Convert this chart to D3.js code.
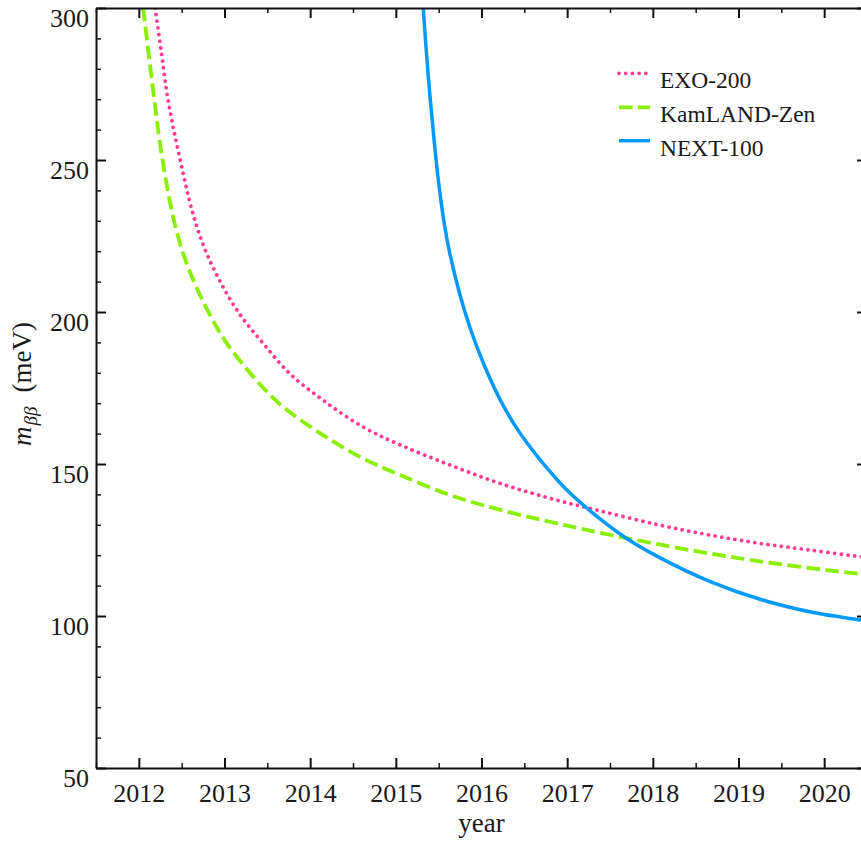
<!DOCTYPE html>
<html>
<head>
<meta charset="utf-8">
<script src="https://cdn.jsdelivr.net/npm/d3@7"></script>
<style>
  html, body { margin: 0; padding: 0; background: #fff; }
  svg { display: block; }
  text { font-family: "Liberation Serif", "Times New Roman", serif; fill: #1a1a1a; }
</style>
</head>
<body>
<svg id="chart" width="861" height="844"></svg>
<script>
// ---- data ----
const xTickYears = [2012, 2013, 2014, 2015, 2016, 2017, 2018, 2019, 2020];
const yTickValues = [50, 100, 150, 200, 250, 300];

const exoYears  = [2012.19, 2012.26, 2012.34, 2012.46, 2012.63, 2012.76, 2012.94, 2013.17, 2013.45, 2013.76, 2014.15, 2014.61, 2015.05, 2015.63, 2016.22, 2016.80, 2017.38, 2018.08, 2018.67, 2019.25, 2019.83, 2020.42, 2020.5];
const exoValues = [300, 286, 270, 253, 232.5, 221.5, 210.5, 199.6, 189.7, 179.8, 171, 162.3, 156.3, 149.7, 143.6, 138.7, 134.6, 129.9, 126.6, 123.9, 121.7, 119.5, 119.2];

const kamYears  = [2012.05, 2012.11, 2012.18, 2012.26, 2012.40, 2012.53, 2012.67, 2012.84, 2013.02, 2013.37, 2013.68, 2014.15, 2014.61, 2015.05, 2015.63, 2016.22, 2016.80, 2017.38, 2018.47, 2019.25, 2020.03, 2020.5];
const kamValues = [300, 286, 270, 253, 231.3, 218.2, 208.3, 198.5, 190, 177.6, 168.9, 159.5, 151.9, 146.4, 139.8, 134.9, 131.0, 127.4, 121.5, 118.0, 115.1, 113.6];

const nextYears  = [2015.32, 2015.35, 2015.40, 2015.45, 2015.50, 2015.56, 2015.63, 2015.75, 2015.87, 2016.02, 2016.22, 2016.41, 2016.68, 2016.80, 2016.99, 2017.38, 2017.69, 2018.08, 2018.67, 2019.25, 2019.83, 2020.42, 2020.5];
const nextValues = [300, 288, 270.5, 255.5, 242.5, 230, 219.3, 205.5, 194.5, 183.3, 171, 161.8, 151.5, 147.5, 141.6, 132, 125.6, 119.2, 111.3, 105.5, 101.4, 98.7, 98.4];

const seriesNames = ["EXO-200", "KamLAND-Zen", "NEXT-100"];
const seriesColors = ["#ff3a94", "#8aee00", "#0099ff"];

// ---- layout ----
const svg = d3.select("#chart");
const mLeft = 96, mTop = 8, mRight = 867, mBottom = 768;

const x = d3.scaleLinear().domain([2011.5, 2020.5]).range([mLeft, mRight]);
const y = d3.scaleLinear().domain([50, 300]).range([mBottom, mTop]);

svg.append("defs").append("clipPath").attr("id", "plotclip")
  .append("rect").attr("x", mLeft).attr("y", mTop).attr("width", mRight - mLeft).attr("height", mBottom - mTop);

// ---- curves ----
const series = [
  { name: seriesNames[0], color: seriesColors[0], pts: exoYears.map((d, i) => [d, exoValues[i]]), dash: "0.01,6.7", width: 3.8, cap: "round" },
  { name: seriesNames[1], color: seriesColors[1], pts: kamYears.map((d, i) => [d, kamValues[i]]), dash: "13.5,5.5", width: 3.8, cap: "butt" },
  { name: seriesNames[2], color: seriesColors[2], pts: nextYears.map((d, i) => [d, nextValues[i]]), dash: null, width: 3.5, cap: "butt" }
];

const line = d3.line().x(d => x(d[0])).y(d => y(d[1])).curve(d3.curveCatmullRom.alpha(0.5));

const g = svg.append("g").attr("clip-path", "url(#plotclip)");
series.forEach(s => {
  g.append("path").datum(s.pts)
    .attr("d", line)
    .attr("fill", "none")
    .attr("stroke", s.color)
    .attr("stroke-width", s.width)
    .attr("stroke-linecap", s.cap)
    .attr("stroke-dasharray", s.dash);
});

// ---- axes ----
const xMinor = d3.range(2011.5, 2020.51, 0.5).filter(v => !xTickYears.includes(v));
const yMinor = d3.range(50, 301, 10).filter(v => !yTickValues.includes(v));

function styleAxis(sel) {
  sel.select(".domain").attr("stroke", "#111").attr("stroke-width", 2);
  sel.selectAll(".tick line").attr("stroke", "#111").attr("stroke-width", 2);
}

// bottom
const bx = svg.append("g").attr("transform", `translate(0,${mBottom})`)
  .call(d3.axisBottom(x).tickValues(xTickYears).tickSize(-10).tickSizeOuter(0).tickFormat(d3.format("d")));
styleAxis(bx);
bx.selectAll(".tick text").attr("y", 34).attr("dy", 0).attr("font-size", 26).attr("font-family", "Liberation Serif").attr("fill", "#1a1a1a");
const bxm = svg.append("g").attr("transform", `translate(0,${mBottom})`)
  .call(d3.axisBottom(x).tickValues(xMinor).tickSize(-5).tickSizeOuter(0).tickFormat(""));
styleAxis(bxm); bxm.select(".domain").remove();
bxm.selectAll(".tick line").attr("stroke-width", 1.5);

// top
const tx = svg.append("g").attr("transform", `translate(0,${mTop})`)
  .call(d3.axisTop(x).tickValues(xTickYears).tickSize(-10).tickSizeOuter(0).tickFormat(""));
styleAxis(tx);
const txm = svg.append("g").attr("transform", `translate(0,${mTop})`)
  .call(d3.axisTop(x).tickValues(xMinor).tickSize(-5).tickSizeOuter(0).tickFormat(""));
styleAxis(txm); txm.select(".domain").remove();
txm.selectAll(".tick line").attr("stroke-width", 1.5);

// left
const ly = svg.append("g").attr("transform", `translate(${mLeft},0)`)
  .call(d3.axisLeft(y).tickValues(yTickValues).tickSize(-10).tickSizeOuter(0).tickFormat(d3.format("d")));
styleAxis(ly);
ly.selectAll(".tick text").attr("x", -7).attr("y", 18).attr("dy", 0).attr("font-size", 26).attr("font-family", "Liberation Serif").attr("fill", "#1a1a1a");
const lym = svg.append("g").attr("transform", `translate(${mLeft},0)`)
  .call(d3.axisLeft(y).tickValues(yMinor).tickSize(-5).tickSizeOuter(0).tickFormat(""));
styleAxis(lym); lym.select(".domain").remove();
lym.selectAll(".tick line").attr("stroke-width", 1.5);

// right
const ry = svg.append("g").attr("transform", `translate(${mRight},0)`)
  .call(d3.axisRight(y).tickValues(yTickValues).tickSize(-10).tickSizeOuter(0).tickFormat(""));
styleAxis(ry);
const rym = svg.append("g").attr("transform", `translate(${mRight},0)`)
  .call(d3.axisRight(y).tickValues(yMinor).tickSize(-5).tickSizeOuter(0).tickFormat(""));
styleAxis(rym); rym.select(".domain").remove();
rym.selectAll(".tick line").attr("stroke-width", 1.5);

// ---- axis labels ----
svg.append("text").attr("x", x(2016)).attr("y", 832)
  .attr("text-anchor", "middle").attr("font-size", 27).text("year");

const yl = svg.append("text")
  .attr("transform", `translate(31,${y(175) - 4}) rotate(-90)`)
  .attr("text-anchor", "middle").attr("font-size", 27);
yl.append("tspan").attr("font-style", "italic").text("m");
yl.append("tspan").attr("font-style", "italic").attr("font-size", 19).attr("dy", 6).attr("dx", 1).text("ββ");
yl.append("tspan").attr("dy", -6).attr("dx", 14).text("(meV)");

// ---- legend ----
const legendY = [73.3, 107.3, 140.7];
const leg = svg.append("g");
series.forEach((s, i) => {
  leg.append("line")
    .attr("x1", 619).attr("x2", 650).attr("y1", legendY[i]).attr("y2", legendY[i])
    .attr("stroke", s.color).attr("stroke-width", s.width)
    .attr("stroke-linecap", s.cap).attr("stroke-dasharray", s.dash);
  leg.append("text").attr("x", 660).attr("y", legendY[i] + 15)
    .attr("font-size", 23.5).text(s.name);
});
</script>
</body>
</html>
